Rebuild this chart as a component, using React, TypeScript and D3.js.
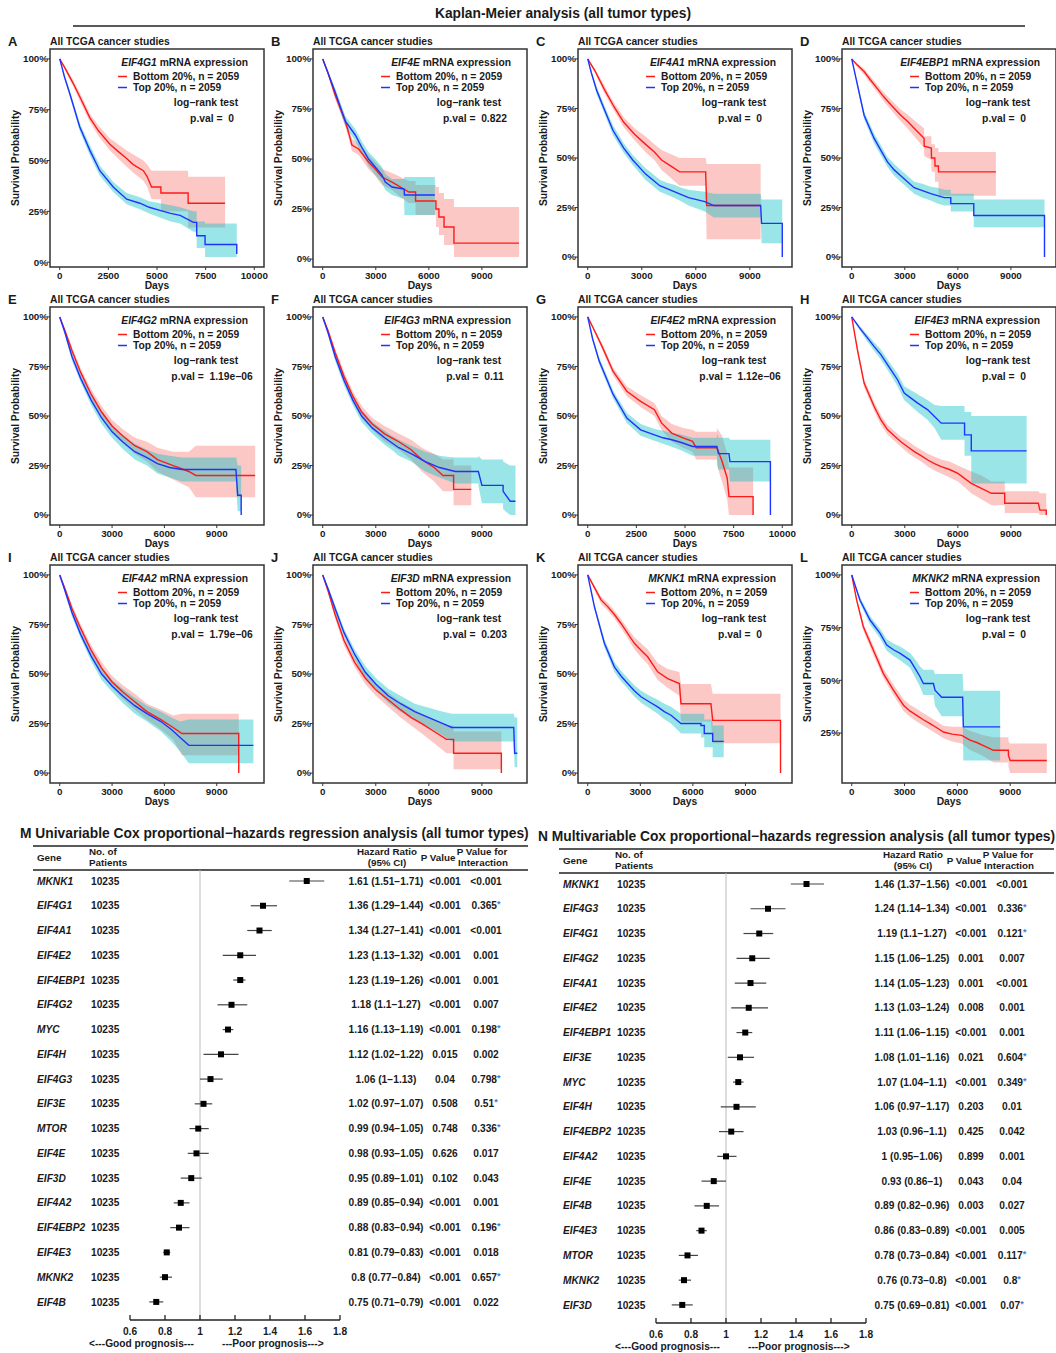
import React from 'react'
import * as d3 from 'd3'

// [day, survival, lower CI, upper CI]
type Pt = [number, number, number, number]

const FONT = 'Liberation Sans, Arial, Helvetica, sans-serif'

const letters = ['A', 'B', 'C', 'D', 'E', 'F', 'G', 'H', 'I', 'J', 'K', 'L']
const genes = ['EIF4G1', 'EIF4E', 'EIF4A1', 'EIF4EBP1', 'EIF4G2', 'EIF4G3', 'EIF4E2', 'EIF4E3', 'EIF4A2', 'EIF3D', 'MKNK1', 'MKNK2']
const pvals = ['0', '0.822', '0', '0', '1.19e\u221206', '0.11', '1.12e\u221206', '0', '1.79e\u221206', '0.203', '0', '0']
const xMaxDays = [10000, 11000, 10800, 11000, 11150, 11000, 10000, 11000, 11150, 11000, 11100, 11050]
const xTickStep = [2500, 3000, 3000, 3000, 3000, 3000, 2500, 3000, 3000, 3000, 3000, 3000]

const kmA_bottom: Pt[] = [[0, 1, 1, 1], [300, .95, .94, .96], [690, .88, .865, .895], [1100, .8, .78, .82], [1550, .71, .69, .73], [2000, .645, .62, .67], [2580, .58, .55, .61], [3000, .545, .51, .58], [3440, .51, .47, .55], [3780, .48, .44, .53], [4300, .45, .4, .5], [4500, .42, .37, .48], [4720, .37, .31, .45], [5200, .37, .31, .45], [5200, .34, .25, .45], [6600, .29, .17, .42], [8500, .29, .17, .42]]
const kmA_top: Pt[] = [[0, 1, 1, 1], [250, .91, .9, .92], [515, .83, .815, .845], [1030, .665, .645, .685], [1550, .55, .525, .575], [2060, .45, .425, .475], [2750, .37, .345, .395], [3440, .31, .285, .34], [4120, .29, .26, .32], [4600, .27, .24, .3], [5150, .255, .22, .29], [5700, .24, .2, .28], [6190, .23, .19, .27], [6870, .196, .15, .25], [7040, .196, .15, .25], [7040, .13, .07, .2], [7470, .13, .07, .2], [7470, .087, .025, .19], [9100, .087, .025, .19], [9100, .04, .025, .19]]

const kmB_bottom: Pt[] = [[0, 1, 1, 1], [300, .93, .92, .94], [700, .82, .8, .84], [1270, .69, .665, .715], [1500, .62, .595, .645], [1650, .57, .54, .6], [2030, .55, .52, .58], [2590, .485, .45, .52], [2970, .45, .415, .485], [3350, .41, .37, .45], [3920, .385, .345, .43], [4400, .36, .31, .41], [4870, .335, .28, .39], [5250, .335, .28, .39], [5250, .29, .22, .37], [6400, .29, .2, .38], [6400, .25, .16, .36], [6570, .25, .16, .36], [6570, .21, .12, .33], [6860, .21, .12, .33], [6860, .16, .07, .3], [7420, .16, .07, .3], [7420, .08, .01, .26], [11100, .08, .01, .26]]
const kmB_top: Pt[] = [[0, 1, 1, 1], [300, .93, .92, .94], [700, .835, .815, .855], [1270, .69, .665, .715], [1840, .62, .59, .65], [2200, .56, .53, .59], [2590, .5, .465, .535], [2970, .46, .42, .5], [3350, .42, .38, .46], [3540, .385, .345, .425], [3920, .36, .32, .4], [4600, .35, .3, .4], [4620, .32, .22, .41], [6340, .32, .22, .41]]

const kmC_bottom: Pt[] = [[0, 1, 1, 1], [400, .94, .93, .95], [900, .85, .83, .87], [1450, .76, .74, .78], [2000, .68, .655, .705], [2600, .62, .59, .65], [3200, .57, .53, .61], [3700, .53, .49, .57], [4100, .49, .44, .54], [4600, .46, .4, .52], [5100, .43, .36, .5], [6550, .42, .34, .5], [6600, .26, .09, .47], [9600, .26, .09, .47]]
const kmC_top: Pt[] = [[0, 1, 1, 1], [200, .93, .92, .94], [500, .84, .82, .86], [900, .75, .73, .77], [1400, .64, .615, .665], [2000, .55, .525, .575], [2500, .49, .465, .515], [3200, .42, .39, .45], [3600, .39, .36, .42], [4000, .36, .33, .39], [4400, .345, .315, .375], [4800, .33, .3, .365], [5200, .315, .28, .35], [5600, .3, .26, .34], [6050, .29, .245, .335], [6500, .28, .23, .33], [7000, .26, .2, .32], [9600, .26, .2, .32], [9650, .17, .07, .29], [10800, .17, .07, .29], [10800, 0, .07, .29]]

const kmD_bottom: Pt[] = [[0, 1, 1, 1], [300, .97, .96, .98], [700, .936, .92, .95], [1050, .895, .877, .913], [1450, .85, .83, .87], [1800, .81, .788, .832], [2200, .77, .745, .795], [2770, .716, .685, .745], [3150, .685, .65, .72], [3530, .65, .61, .69], [4090, .6, .55, .65], [4100, .56, .51, .61], [4500, .55, .49, .61], [4510, .5, .43, .57], [4700, .5, .43, .57], [4710, .46, .38, .55], [4900, .46, .38, .55], [4910, .43, .31, .53], [8150, .43, .31, .53]]
const kmD_top: Pt[] = [[0, 1, 1, 1], [320, .87, .855, .885], [700, .716, .695, .735], [1260, .6, .575, .625], [1640, .54, .515, .565], [2020, .48, .455, .505], [2400, .44, .41, .47], [2770, .41, .38, .44], [3150, .38, .35, .41], [3530, .35, .32, .38], [4000, .335, .3, .37], [4470, .32, .285, .355], [4850, .31, .27, .35], [5230, .3, .26, .34], [5600, .3, .26, .34], [5600, .27, .23, .32], [6900, .27, .23, .32], [6900, .21, .15, .29], [10900, .21, .15, .29], [10900, 0, .15, .29]]

const kmE_bottom: Pt[] = [[0, 1, 1, 1], [300, .93, .92, .94], [700, .83, .81, .85], [1200, .72, .7, .74], [1800, .61, .585, .635], [2400, .52, .49, .55], [3000, .45, .42, .48], [3600, .4, .365, .435], [4300, .35, .31, .39], [5000, .32, .27, .37], [5600, .28, .22, .34], [6050, .265, .2, .33], [6500, .25, .18, .32], [6950, .235, .16, .32], [7400, .22, .14, .32], [7800, .2, .09, .35], [11200, .2, .09, .35]]
const kmE_top: Pt[] = [[0, 1, 1, 1], [300, .92, .91, .93], [700, .8, .78, .82], [1200, .69, .67, .71], [1800, .58, .555, .605], [2400, .49, .46, .52], [3000, .42, .39, .45], [3600, .37, .335, .405], [4300, .32, .28, .36], [5000, .29, .25, .33], [5600, .26, .21, .31], [6300, .24, .19, .3], [7000, .23, .17, .29], [10100, .23, .15, .3], [10200, .1, .02, .25], [10400, .1, .02, .25], [10400, 0, .02, .25]]

const kmF_bottom: Pt[] = [[0, 1, 1, 1], [300, .93, .92, .94], [700, .82, .8, .84], [1200, .7, .675, .725], [1700, .6, .575, .625], [2200, .52, .49, .55], [2800, .46, .43, .49], [3500, .41, .37, .45], [3900, .39, .35, .43], [4300, .37, .33, .41], [5000, .33, .28, .38], [5600, .28, .22, .34], [6300, .24, .17, .31], [6800, .2, .12, .28], [7400, .2, .12, .28], [7400, .13, .05, .25], [8400, .13, .05, .25]]
const kmF_top: Pt[] = [[0, 1, 1, 1], [300, .92, .91, .93], [700, .8, .78, .82], [1200, .68, .655, .705], [1700, .58, .555, .605], [2200, .5, .47, .53], [2800, .44, .41, .47], [3500, .39, .355, .425], [3900, .365, .33, .4], [4300, .34, .3, .38], [5000, .31, .27, .35], [5400, .29, .245, .335], [5800, .27, .22, .32], [6200, .255, .205, .31], [6600, .24, .19, .3], [7050, .23, .175, .295], [7500, .22, .16, .29], [8800, .22, .15, .3], [9000, .15, .06, .28], [10200, .12, .03, .27], [10600, .07, 0, .25], [10900, .07, 0, .25]]

const kmG_bottom: Pt[] = [[0, 1, 1, 1], [400, .92, .91, .93], [765, .845, .83, .86], [1300, .726, .705, .745], [2010, .625, .6, .65], [2720, .574, .545, .605], [3430, .532, .5, .565], [3790, .465, .43, .5], [4320, .414, .37, .46], [4900, .39, .34, .44], [5390, .372, .32, .43], [5570, .34, .28, .42], [6640, .34, .25, .44], [6900, .273, .17, .4], [7170, .186, .08, .31], [7260, .093, 0, .24], [8500, .093, 0, .24], [8500, 0, 0, .24]]
const kmG_top: Pt[] = [[0, 1, 1, 1], [250, .89, .88, .9], [590, .777, .76, .795], [1300, .61, .59, .63], [2010, .49, .465, .515], [2720, .43, .4, .46], [3430, .405, .375, .435], [3870, .39, .36, .425], [4320, .38, .345, .415], [4850, .365, .325, .405], [5390, .346, .3, .39], [6640, .346, .28, .41], [6720, .31, .23, .39], [7260, .31, .23, .39], [7310, .27, .17, .38], [9390, .27, .17, .38], [9390, 0, .17, .38]]

const kmH_bottom: Pt[] = [[0, 1, 1, 1], [320, .835, .82, .85], [700, .666, .645, .685], [1270, .548, .525, .57], [1650, .48, .455, .505], [2030, .43, .405, .455], [2400, .4, .375, .425], [2780, .37, .345, .395], [3160, .345, .315, .375], [3540, .32, .29, .35], [3920, .3, .27, .33], [4300, .278, .245, .31], [4680, .26, .225, .295], [5060, .245, .21, .28], [5530, .23, .19, .27], [6000, .21, .17, .25], [6380, .185, .14, .235], [6760, .16, .11, .22], [7330, .135, .08, .2], [7900, .11, .05, .17], [8650, .06, .01, .12], [10550, .06, .01, .12], [10640, .025, 0, .11], [11000, .025, 0, .11], [11000, 0, 0, .11]]
const kmH_top: Pt[] = [[0, 1, 1, 1], [400, .95, .94, .96], [890, .894, .875, .91], [1270, .85, .828, .872], [1650, .81, .785, .835], [2220, .733, .705, .76], [2590, .683, .65, .715], [2970, .616, .58, .65], [3350, .59, .55, .63], [3730, .565, .52, .61], [4300, .531, .48, .58], [4680, .497, .44, .555], [5060, .464, .38, .55], [6380, .464, .38, .55], [6380, .405, .3, .52], [6760, .405, .3, .52], [6760, .324, .16, .5], [9890, .324, .16, .5]]

const kmI_bottom: Pt[] = [[0, 1, 1, 1], [300, .93, .92, .94], [700, .83, .81, .85], [1200, .73, .71, .75], [1800, .62, .595, .645], [2400, .53, .5, .56], [3000, .46, .43, .49], [3600, .41, .375, .445], [4300, .36, .32, .4], [5000, .31, .27, .35], [5400, .29, .245, .335], [5800, .27, .22, .32], [6500, .23, .17, .29], [7000, .2, .09, .3], [10260, .2, .09, .3], [10260, 0, .09, .3]]
const kmI_top: Pt[] = [[0, 1, 1, 1], [300, .92, .91, .93], [700, .81, .79, .83], [1200, .7, .68, .72], [1800, .59, .565, .615], [2400, .5, .47, .53], [3000, .44, .41, .47], [3600, .39, .355, .425], [4300, .34, .3, .38], [5000, .3, .26, .34], [5400, .28, .235, .325], [5800, .26, .21, .31], [6400, .22, .16, .28], [6900, .18, .11, .26], [7400, .14, .05, .27], [11100, .14, .05, .27]]

const kmJ_bottom: Pt[] = [[0, 1, 1, 1], [300, .92, .91, .93], [700, .8, .78, .82], [1200, .67, .645, .695], [1800, .56, .535, .585], [2400, .48, .45, .51], [3000, .42, .39, .45], [3700, .37, .335, .405], [4400, .32, .28, .36], [5000, .28, .24, .33], [5600, .25, .2, .3], [6300, .21, .15, .27], [7000, .17, .1, .24], [7400, .17, .1, .24], [7400, .1, .02, .21], [10100, .1, .02, .21], [10100, 0, .02, .21]]
const kmJ_top: Pt[] = [[0, 1, 1, 1], [300, .93, .92, .94], [700, .83, .81, .85], [1200, .71, .69, .73], [1800, .6, .575, .625], [2400, .51, .48, .54], [3000, .45, .42, .48], [3700, .39, .355, .425], [4400, .35, .31, .39], [4800, .33, .29, .37], [5200, .31, .27, .35], [5600, .295, .25, .34], [6000, .28, .23, .33], [6400, .265, .21, .32], [6800, .25, .19, .31], [7300, .23, .16, .3], [10800, .23, .16, .3], [10850, .1, .03, .28], [11000, .1, .03, .28]]

const kmK_bottom: Pt[] = [[0, 1, 1, 1], [300, .95, .94, .96], [760, .874, .855, .89], [1140, .84, .82, .86], [1520, .8, .78, .82], [1900, .755, .732, .778], [2280, .705, .68, .73], [2660, .655, .625, .685], [3040, .62, .585, .655], [3420, .587, .55, .625], [3990, .511, .47, .555], [4560, .477, .43, .525], [5230, .452, .39, .51], [5320, .35, .26, .45], [7030, .35, .26, .45], [7130, .266, .15, .4], [11000, .266, .15, .4], [11000, 0, .15, .4]]
const kmK_top: Pt[] = [[0, 1, 1, 1], [380, .84, .825, .855], [950, .655, .635, .675], [1520, .536, .51, .56], [1900, .49, .464, .516], [2280, .452, .425, .48], [2660, .415, .387, .443], [3040, .385, .355, .415], [3500, .36, .328, .392], [3990, .334, .3, .37], [4370, .31, .272, .35], [4750, .292, .25, .335], [5320, .25, .2, .3], [6460, .24, .18, .3], [6650, .24, .18, .3], [6650, .2, .13, .27], [7130, .2, .13, .27], [7130, .16, .08, .24], [7760, .16, .08, .24]]

const kmL_bottom: Pt[] = [[0, 1, 1, 1], [280, .88, .87, .89], [660, .754, .735, .77], [1230, .643, .62, .665], [1800, .532, .51, .555], [2370, .453, .43, .48], [2940, .382, .355, .41], [3300, .355, .327, .384], [3690, .334, .305, .365], [4070, .313, .284, .344], [4450, .295, .265, .325], [4830, .275, .245, .305], [5210, .255, .225, .285], [5700, .245, .21, .28], [6250, .239, .2, .28], [6720, .216, .17, .26], [7100, .205, .155, .25], [7480, .19, .14, .24], [8050, .168, .11, .23], [8900, .144, .09, .21], [9000, .12, .06, .2], [11080, .12, .06, .2]]
const kmL_top: Pt[] = [[0, 1, 1, 1], [470, .88, .865, .895], [1040, .786, .765, .805], [1610, .723, .7, .745], [1990, .667, .64, .695], [2370, .645, .615, .675], [2750, .628, .595, .66], [3310, .596, .56, .63], [3600, .557, .515, .6], [3880, .517, .47, .565], [4070, .485, .43, .55], [4640, .485, .43, .55], [4730, .453, .38, .53], [5110, .42, .33, .53], [6300, .42, .33, .53], [6340, .279, .12, .45], [8430, .279, .12, .45]]

const bottomCurves = [kmA_bottom, kmB_bottom, kmC_bottom, kmD_bottom, kmE_bottom, kmF_bottom, kmG_bottom, kmH_bottom, kmI_bottom, kmJ_bottom, kmK_bottom, kmL_bottom]
const topCurves = [kmA_top, kmB_top, kmC_top, kmD_top, kmE_top, kmF_top, kmG_top, kmH_top, kmI_top, kmJ_top, kmK_top, kmL_top]

// Cox regression tables
const uniGenes = ['MKNK1', 'EIF4G1', 'EIF4A1', 'EIF4E2', 'EIF4EBP1', 'EIF4G2', 'MYC', 'EIF4H', 'EIF4G3', 'EIF3E', 'MTOR', 'EIF4E', 'EIF3D', 'EIF4A2', 'EIF4EBP2', 'EIF4E3', 'MKNK2', 'EIF4B']
const uniHR = [1.61, 1.36, 1.34, 1.23, 1.23, 1.18, 1.16, 1.12, 1.06, 1.02, 0.99, 0.98, 0.95, 0.89, 0.88, 0.81, 0.8, 0.75]
const uniLo = [1.51, 1.29, 1.27, 1.13, 1.19, 1.1, 1.13, 1.02, 1, 0.97, 0.94, 0.93, 0.89, 0.85, 0.83, 0.79, 0.77, 0.71]
const uniHi = [1.71, 1.44, 1.41, 1.32, 1.26, 1.27, 1.19, 1.22, 1.13, 1.07, 1.05, 1.05, 1.01, 0.94, 0.94, 0.83, 0.84, 0.79]
const uniP = ['<0.001', '<0.001', '<0.001', '<0.001', '<0.001', '<0.001', '<0.001', '0.015', '0.04', '0.508', '0.748', '0.626', '0.102', '<0.001', '<0.001', '<0.001', '<0.001', '<0.001']
const uniInt = ['<0.001', '0.365*', '<0.001', '0.001', '0.001', '0.007', '0.198*', '0.002', '0.798*', '0.51*', '0.336*', '0.017', '0.043', '0.001', '0.196*', '0.018', '0.657*', '0.022']

const multiGenes = ['MKNK1', 'EIF4G3', 'EIF4G1', 'EIF4G2', 'EIF4A1', 'EIF4E2', 'EIF4EBP1', 'EIF3E', 'MYC', 'EIF4H', 'EIF4EBP2', 'EIF4A2', 'EIF4E', 'EIF4B', 'EIF4E3', 'MTOR', 'MKNK2', 'EIF3D']
const multiHR = [1.46, 1.24, 1.19, 1.15, 1.14, 1.13, 1.11, 1.08, 1.07, 1.06, 1.03, 1, 0.93, 0.89, 0.86, 0.78, 0.76, 0.75]
const multiLo = [1.37, 1.14, 1.1, 1.06, 1.05, 1.03, 1.06, 1.01, 1.04, 0.97, 0.96, 0.95, 0.86, 0.82, 0.83, 0.73, 0.73, 0.69]
const multiHi = [1.56, 1.34, 1.27, 1.25, 1.23, 1.24, 1.15, 1.16, 1.1, 1.17, 1.1, 1.06, 1, 0.96, 0.89, 0.84, 0.8, 0.81]
const multiP = ['<0.001', '<0.001', '<0.001', '0.001', '0.001', '0.008', '<0.001', '0.021', '<0.001', '0.203', '0.425', '0.899', '0.043', '0.003', '<0.001', '<0.001', '<0.001', '<0.001']
const multiInt = ['<0.001', '0.336*', '0.121*', '0.007', '<0.001', '0.001', '0.001', '0.604*', '0.349*', '0.01', '0.042', '0.001', '0.04', '0.027', '0.005', '0.117*', '0.8*', '0.07*']

const hrTicks = [0.6, 0.8, 1, 1.2, 1.4, 1.6, 1.8]

const RED = '#ff1a1a'
const BLUE = '#1f33ff'
const TXT = '#1a1a1a'

// step-after curve that draws short gaps (dense event regions) as straight segments
class HybridStep {
  _context: any
  _thr: number
  _t = 1
  _line: number = NaN
  _x = NaN
  _y = NaN
  _point = 0
  constructor(context: any, thr: number) {
    this._context = context
    this._thr = thr
  }
  areaStart() { this._line = 0 }
  areaEnd() { this._line = NaN }
  lineStart() { this._x = this._y = NaN; this._point = 0 }
  lineEnd() {
    if (this._line || (this._line !== 0 && this._point === 1)) this._context.closePath()
    if (this._line >= 0) { this._t = 1 - this._t; this._line = 1 - this._line }
  }
  point(x: number, y: number) {
    x = +x; y = +y
    if (this._point === 0) {
      this._point = 1
      if (this._line) this._context.lineTo(x, y)
      else this._context.moveTo(x, y)
    } else {
      this._point = 2
      if (Math.abs(x - this._x) > this._thr) {
        if (this._t <= 0) { this._context.lineTo(this._x, y); this._context.lineTo(x, y) }
        else { this._context.lineTo(x, this._y); this._context.lineTo(x, y) }
      } else {
        this._context.lineTo(x, y)
      }
    }
    this._x = x; this._y = y
  }
}

const hybridStep = (thr: number) => ((context: any) => new HybridStep(context, thr)) as any

function KMPanel({ i, bx, by }: { i: number; bx: number; by: number }) {
  const W = 214
  const H = 218
  const bottom = bottomCurves[i]
  const top = topCurves[i]
  const xMax = xMaxDays[i]
  const x = d3.scaleLinear().domain([-0.05 * xMax, 1.05 * xMax]).range([bx, bx + W])
  const ymin = d3.min([...bottom, ...top], d => Math.min(d[1], d[2])) as number
  const pad = 0.05 * (1 - ymin)
  const y = d3.scaleLinear().domain([ymin - pad, 1 + pad]).range([by + H, by])
  const curve = hybridStep(x(720) - x(0))

  const line = d3.line<Pt>().x(d => x(d[0])).y(d => y(d[1])).curve(curve)
  const band = d3.area<Pt>().x(d => x(d[0])).y0(d => y(d[2])).y1(d => y(d[3])).curve(curve)

  const yTicks = [0, 0.25, 0.5, 0.75, 1].filter(v => v >= y.domain()[0])
  const xTicks = d3.range(0, xMax + 1, xTickStep[i])
  const pct = d3.format('.0%')
  const right = bx + W

  return (
    <g fontFamily={FONT} fontWeight="bold" fill={TXT}>
      <text x={bx - 42} y={by - 3} fontSize={13}>{letters[i]}</text>
      <text x={bx} y={by - 4} fontSize={10.3}>All TCGA cancer studies</text>
      <path d={band(bottom) || ''} fill="#F8766D" fillOpacity={0.4} />
      <path d={band(top) || ''} fill="#00BFC4" fillOpacity={0.4} />
      <path d={line(bottom) || ''} fill="none" stroke={RED} strokeWidth={1.4} />
      <path d={line(top) || ''} fill="none" stroke={BLUE} strokeWidth={1.4} />
      <rect x={bx} y={by} width={W} height={H} fill="none" stroke="#333" strokeWidth={1.5} />
      {yTicks.map(v => (
        <g key={v}>
          <line x1={bx - 3} x2={bx} y1={y(v)} y2={y(v)} stroke="#333" />
          <text x={bx - 2} y={y(v) + 3.4} fontSize={9.8} textAnchor="end">{pct(v)}</text>
        </g>
      ))}
      {xTicks.map(v => (
        <g key={v}>
          <line x1={x(v)} x2={x(v)} y1={by + H} y2={by + H + 3} stroke="#333" />
          <text x={x(v)} y={by + H + 12} fontSize={9.8} textAnchor="middle">{v}</text>
        </g>
      ))}
      <text x={bx + W / 2} y={by + H + 22} fontSize={10.3} textAnchor="middle">Days</text>
      <text transform={`translate(${bx - 31},${by + H / 2}) rotate(-90)`} fontSize={10.3} textAnchor="middle">Survival Probability</text>
      <text x={right - 16} y={by + 17} fontSize={10.3} textAnchor="end">
        <tspan fontStyle="italic">{genes[i]}</tspan> mRNA expression
      </text>
      <line x1={right - 146} x2={right - 137} y1={by + 27.5} y2={by + 27.5} stroke={RED} strokeWidth={1.5} />
      <text x={right - 131} y={by + 31} fontSize={10.3}>Bottom 20%, n = 2059</text>
      <line x1={right - 146} x2={right - 137} y1={by + 38.5} y2={by + 38.5} stroke={BLUE} strokeWidth={1.5} />
      <text x={right - 131} y={by + 42} fontSize={10.3}>Top 20%, n = 2059</text>
      <text x={right - 58} y={by + 57} fontSize={10.3} textAnchor="middle">log{'\u2212'}rank test</text>
      <text x={right - 52} y={by + 73} fontSize={10.3} textAnchor="middle" style={{ whiteSpace: 'pre' }}>{'p.val =  ' + pvals[i]}</text>
    </g>
  )
}

type ForestProps = {
  title: string
  titleX: number
  dx: number
  dy: number
  genes: string[]
  hr: number[]
  lo: number[]
  hi: number[]
  p: string[]
  inter: string[]
}

function Forest({ title, titleX, dx, dy, genes, hr, lo, hi, p, inter }: ForestProps) {
  const x = d3.scaleLinear().domain([0.6, 1.8]).range([130 + dx, 340 + dx])
  const rowY = (k: number) => 881 + dy + k * 24.76
  const axisY = 1320 + dy
  const fs = 10.2
  const hs = 9.8
  return (
    <g fontFamily={FONT} fontWeight="bold" fill={TXT}>
      <text x={titleX} y={838 + dy} fontSize={13.8}>{title}</text>
      <line x1={33 + dx} x2={528 + dx} y1={846 + dy} y2={846 + dy} stroke="#222" strokeWidth={1.4} />
      <text x={37 + dx} y={861 + dy} fontSize={hs}>Gene</text>
      <text x={89 + dx} y={855 + dy} fontSize={hs}>No. of</text>
      <text x={89 + dx} y={866 + dy} fontSize={hs}>Patients</text>
      <text x={387 + dx} y={855 + dy} fontSize={hs} textAnchor="middle">Hazard Ratio</text>
      <text x={387 + dx} y={866 + dy} fontSize={hs} textAnchor="middle">(95% CI)</text>
      <text x={438 + dx} y={861 + dy} fontSize={hs} textAnchor="middle">P Value</text>
      <text x={482 + dx} y={855 + dy} fontSize={hs} textAnchor="middle">P Value for</text>
      <text x={483 + dx} y={866 + dy} fontSize={hs} textAnchor="middle">Interaction</text>
      <line x1={33 + dx} x2={528 + dx} y1={870 + dy} y2={870 + dy} stroke="#222" strokeWidth={1.4} />
      <line x1={x(1)} x2={x(1)} y1={870 + dy} y2={axisY} stroke="#bbb" strokeWidth={1} />
      {genes.map((g, k) => {
        const yy = rowY(k)
        const star = inter[k].endsWith('*')
        return (
          <g key={g}>
            <text x={37 + dx} y={yy + 3.6} fontSize={fs} fontStyle="italic">{g}</text>
            <text x={91 + dx} y={yy + 3.6} fontSize={fs}>10235</text>
            <line x1={x(lo[k])} x2={x(hi[k])} y1={yy} y2={yy} stroke="#444" strokeWidth={1.2} />
            <rect x={x(hr[k]) - 3} y={yy - 3} width={6} height={6} fill="#000" />
            <text x={386 + dx} y={yy + 3.6} fontSize={fs} textAnchor="middle">
              {`${hr[k]} (${lo[k]}\u2212${hi[k]})`}
            </text>
            <text x={445 + dx} y={yy + 3.6} fontSize={fs} textAnchor="middle">{p[k]}</text>
            <text x={486 + dx} y={yy + 3.6} fontSize={fs} textAnchor="middle">
              {star ? inter[k].slice(0, -1) : inter[k]}
              {star && <tspan fill="#3b7dd8" fontSize={9} dy={-2}>*</tspan>}
            </text>
          </g>
        )
      })}
      <line x1={x(0.6)} x2={x(1.8)} y1={axisY} y2={axisY} stroke="#222" strokeWidth={1.3} />
      {hrTicks.map(t => (
        <g key={t}>
          <line x1={x(t)} x2={x(t)} y1={axisY - 5} y2={axisY} stroke="#222" strokeWidth={1.3} />
          <text x={x(t)} y={axisY + 15} fontSize={fs} textAnchor="middle">{t}</text>
        </g>
      ))}
      <text x={x(1) - 6} y={axisY + 27} fontSize={fs} textAnchor="end">{'<---Good prognosis---'}</text>
      <text x={x(1) + 22} y={axisY + 27} fontSize={fs}>{'---Poor prognosis--->'}</text>
    </g>
  )
}

const colX = [50, 313, 578, 842]
const rowTop = [49, 307, 565]

export default function App() {
  return (
    <svg width={1056} height={1353} style={{ position: 'absolute', left: 0, top: 0, background: '#fff' }}>
      <rect width={1056} height={1353} fill="#fff" />
      <text x={563} y={18} fontFamily={FONT} fontWeight="bold" fontSize={13.8} textAnchor="middle" fill={TXT}>
        Kaplan-Meier analysis (all tumor types)
      </text>
      <line x1={73} x2={1025} y1={26} y2={26} stroke="#222" strokeWidth={1.4} />
      {letters.map((l, i) => (
        <KMPanel key={l} i={i} bx={colX[i % 4]} by={rowTop[Math.floor(i / 4)]} />
      ))}
      <Forest
        title={'M Univariable Cox proportional\u2212hazards regression analysis (all tumor types)'}
        titleX={20} dx={0} dy={0}
        genes={uniGenes} hr={uniHR} lo={uniLo} hi={uniHi} p={uniP} inter={uniInt}
      />
      <Forest
        title={'N Multivariable Cox proportional\u2212hazards regression analysis (all tumor types)'}
        titleX={538} dx={526} dy={3}
        genes={multiGenes} hr={multiHR} lo={multiLo} hi={multiHi} p={multiP} inter={multiInt}
      />
    </svg>
  )
}
